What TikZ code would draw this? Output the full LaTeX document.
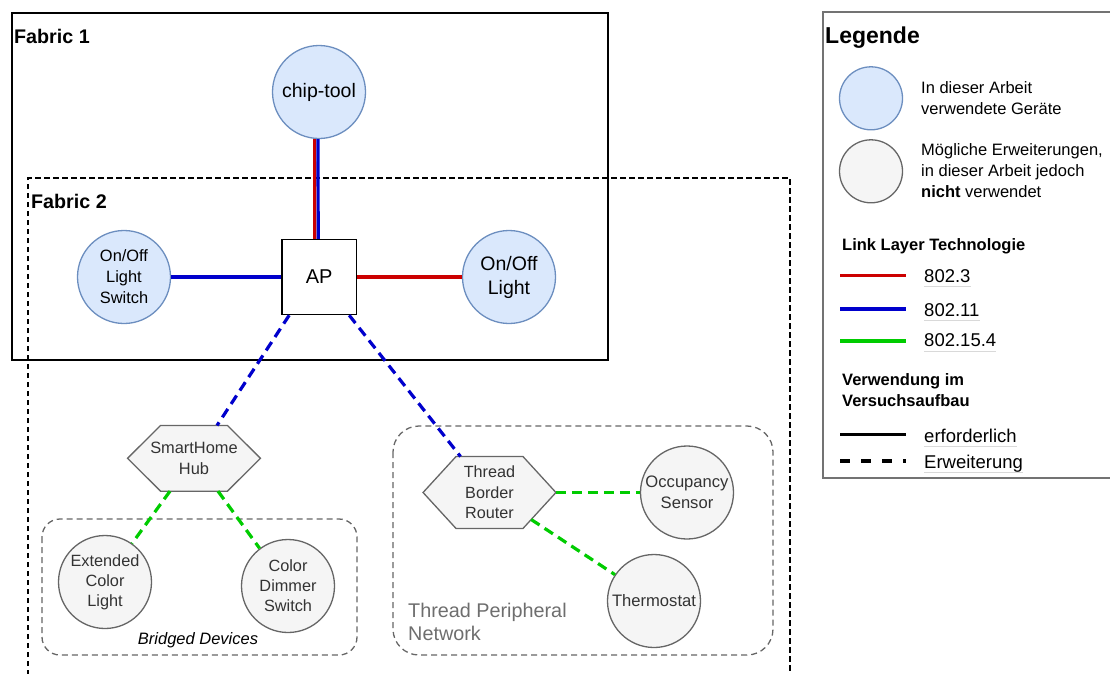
\documentclass[tikz,border=0pt]{standalone}
\usepackage{fontspec}
\setmainfont{Liberation Sans}
\usetikzlibrary{calc,backgrounds}

\definecolor{usedfill}{HTML}{DAE8FC}
\definecolor{usedline}{HTML}{6C8EBF}
\definecolor{extfill}{HTML}{F5F5F5}
\definecolor{extline}{HTML}{666666}
\definecolor{exttext}{HTML}{333333}
\definecolor{lnkred}{HTML}{CC0000}
\definecolor{lnkblue}{HTML}{0000CC}
\definecolor{lnkgreen}{HTML}{00CC00}
\definecolor{grouptext}{HTML}{6E6E6E}

\newcommand{\fsz}[2]{\fontsize{#1}{#2}\selectfont}

\tikzset{
  used/.style={circle, draw=usedline, fill=usedfill, line width=1.3pt, minimum size=93pt, inner sep=0pt, align=center},
  unused/.style={circle, draw=extline, fill=extfill, line width=1.3pt, minimum size=93pt, inner sep=0pt, align=center, text=exttext},
  hexa/.style={rectangle, minimum width=132.5pt, inner sep=0pt, align=center, text=exttext},
  hexline/.style={draw=extline, fill=extfill, line width=1.3pt},
  wired/.style={draw=lnkred, line width=3.2pt},
  wifi/.style={draw=lnkblue, line width=3.2pt},
  thread/.style={draw=lnkgreen, line width=3.2pt},
  extension/.style={dash pattern=on 10pt off 6pt},
  groupbox/.style={draw=extline, line width=1.3pt, dash pattern=on 6pt off 4pt},
  legtext/.style={anchor=base west, inner sep=0pt, text depth=4pt, font=\fsz{18.5}{22},
    append after command={(\tikzlastnode.south west) edge[draw=black!15, line width=1pt] (\tikzlastnode.south east)}},
}

\begin{document}
\begin{tikzpicture}[x=1pt, y=-1pt]
    \def\hexin{33pt}
    \useasboundingbox (0,0) rectangle (1110,673);

    \draw[line width=1.5pt] (12,13) rectangle (608,360);
    \draw[line width=1.5pt, dash pattern=on 5.5pt off 3.5pt] (28,675) -- (28,178) -- (790,178) -- (790,675);
    \node(fab1) [anchor=west, inner sep=0pt, font=\bfseries\fsz{19.7}{24}] at (14,36) {Fabric 1};
    \node(fab2) [anchor=west, inner sep=0pt, font=\bfseries\fsz{19.7}{24}] at (31,201) {Fabric 2};

    \draw[groupbox, rounded corners=18pt] (42,519) rectangle (357,655);
    \draw[groupbox, rounded corners=26pt] (393,426) rectangle (773,655);
    \node(bridged) [inner sep=0pt, font=\itshape\fsz{16.5}{20}] at (198,640) {Bridged Devices};
    \node(tpn) [anchor=west, align=left, inner sep=0pt, text=grouptext, font=\fsz{19.8}{23.5}] at (408,622) {Thread Peripheral\\Network};

    \node(chip) [used, font=\fsz{19.5}{23}] at (319,92) {chip-tool};
    \node(ap) [draw, line width=1.5pt, fill=white, minimum width=74.5pt, minimum height=75pt, inner sep=0pt, font=\fsz{20}{24}] at (319.2,277) {AP};
    \node(sw) [used, font=\fsz{16.4}{21}] at (124,277) {On/Off\\Light\\Switch};
    \node(light) [used, font=\fsz{19.5}{24}] at (509,277) {On/Off\\Light};

    \node(hub) [hexa, minimum height=65.3pt, font=\fsz{16.4}{21}] at (194,458.3) {SmartHome\\Hub};
    \node(tbr) [hexa, minimum height=71.6pt, font=\fsz{16.2}{20.5}] at (489.5,492.5) {Thread\\Border\\Router};
    \node(ext) [unused, font=\fsz{16.3}{20}] at (105,582) {Extended\\Color\\Light};
    \node(cds) [unused, font=\fsz{16.3}{20}] at (288,586) {Color\\Dimmer\\Switch};
    \node(occ) [unused, font=\fsz{16.6}{21}] at (687,492.5) {Occupancy\\Sensor};
    \node(therm) [unused, font=\fsz{16.6}{20}] at (654,601) {Thermostat};

    \begin{scope}[on background layer]
        \draw[hexline] (hub.west) -- ([xshift=\hexin]hub.north west) -- ([xshift=-\hexin]hub.north east) -- (hub.east)
            -- ([xshift=-\hexin]hub.south east) -- ([xshift=\hexin]hub.south west) -- cycle;
        \draw[hexline] (tbr.west) -- ([xshift=\hexin]tbr.north west) -- ([xshift=-\hexin]tbr.north east) -- (tbr.east)
            -- ([xshift=-\hexin]tbr.south east) -- ([xshift=\hexin]tbr.south west) -- cycle;
    \end{scope}

    \draw[wired] ([xshift=-4.4pt]chip.south) -- ([xshift=-4.4pt]ap.north);
    \draw[wifi] ([xshift=-1pt]chip.south) -- ([xshift=-1pt]ap.north);
    \draw[wifi] (sw.east) -- (ap.west);
    \draw[wired] (ap.east) -- (light.west);
    \draw[wifi, extension] ([xshift=-30pt]ap.south) -- ([xshift=23pt]hub.north);
    \draw[wifi, extension] ([xshift=30pt]ap.south) -- ([xshift=-29pt]tbr.north);
    \draw[thread, extension] ([xshift=-24pt]hub.south) -- (ext.55);
    \draw[thread, extension] ([xshift=24pt]hub.south) -- (cds.127);
    \draw[thread, extension] (tbr.east) -- (occ.west);
    \draw[thread, extension] ($([xshift=-\hexin]tbr.south east)!.25!(tbr.east)$) -- (therm.146);

    \draw[line width=1.5pt, draw=black!55] (1112,12) -- (823,12) -- (823,478) -- (1112,478);
    \node(legtitle) [anchor=west, inner sep=0pt, font=\bfseries\fsz{23}{28}] at (825,38) {Legende};
    \node(legused) [used, minimum size=63pt] at (871,98.3) {};
    \node(legext) [unused, minimum size=63pt] at (871,171.3) {};
    \node(legusedtxt) [anchor=west, align=left, inner sep=0pt, font=\fsz{16.5}{21}] at (921,98) {In dieser Arbeit\\verwendete Geräte};
    \node(legexttxt) [anchor=west, align=left, inner sep=0pt, font=\fsz{16.5}{21}] at (921,171) {Mögliche Erweiterungen,\\in dieser Arbeit jedoch\\\textbf{nicht} verwendet};

    \node(lltitle) [anchor=west, inner sep=0pt, font=\bfseries\fsz{16.5}{21}] at (842,246.5) {Link Layer Technologie};
    \draw[wired, line width=3.3pt] (840,275.5) -- (906,275.5);
    \draw[wifi, line width=3.3pt] (840,309) -- (906,309);
    \draw[thread, line width=3.3pt] (840,341) -- (906,341);
    \node(l8023) [legtext] at (924,282.6) {802.3};
    \node(l80211) [legtext] at (924,316.4) {802.11};
    \node(l802154) [legtext] at (924,346.8) {802.15.4};

    \node(usetitle) [anchor=west, align=left, inner sep=0pt, font=\bfseries\fsz{16.5}{21}] at (842,390.5) {Verwendung im\\Versuchsaufbau};
    \draw[line width=3.3pt] (840,434.3) -- (906,434.3);
    \draw[line width=3.3pt, dash pattern=on 10pt off 11pt] (840,461) -- (906,461);
    \node(lreq) [legtext] at (924,442) {erforderlich};
    \node(lopt) [legtext] at (924,468) {Erweiterung};
\end{tikzpicture}
\end{document}
